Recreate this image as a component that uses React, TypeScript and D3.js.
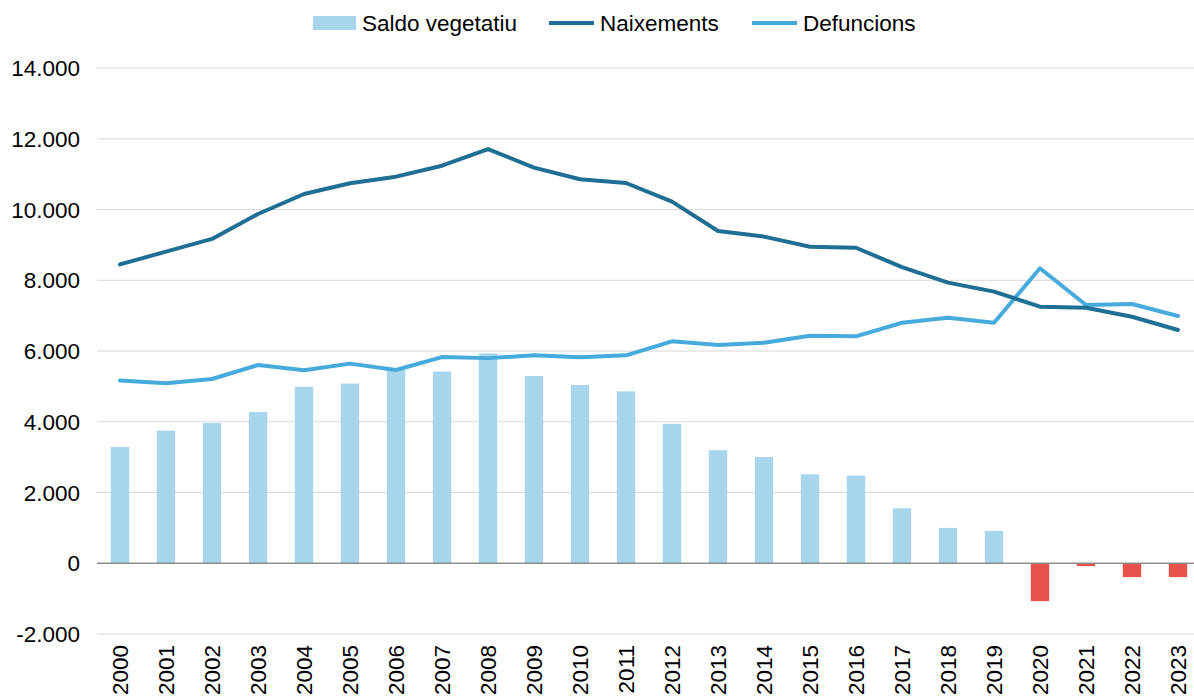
import React, { useRef, useEffect } from 'react';
import * as d3 from 'd3';

const years = ['2000', '2001', '2002', '2003', '2004', '2005', '2006', '2007', '2008', '2009', '2010', '2011',
  '2012', '2013', '2014', '2015', '2016', '2017', '2018', '2019', '2020', '2021', '2022', '2023'];

const saldo = [3290, 3750, 3965, 4275, 4985, 5080, 5465, 5420, 5935, 5295, 5040, 4860,
  3940, 3195, 3005, 2515, 2480, 1555, 1000, 915, -1070, -80, -390, -390];

const naixements = [8450, 8810, 9170, 9875, 10440, 10745, 10930, 11240, 11710, 11185, 10855, 10750,
  10225, 9395, 9235, 8950, 8920, 8370, 7935, 7680, 7255, 7225, 6970, 6595];

const defuncions = [5170, 5090, 5210, 5605, 5455, 5645, 5465, 5830, 5800, 5880, 5825, 5880,
  6275, 6170, 6235, 6435, 6415, 6800, 6940, 6800, 8340, 7300, 7330, 6990];

const yTicks = [-2000, 0, 2000, 4000, 6000, 8000, 10000, 12000, 14000];

const legendItems = ['Saldo vegetatiu', 'Naixements', 'Defuncions'];

const Chart = () => {
  const svgRef = useRef(null);

  useEffect(() => {
    const width = 1194;
    const height = 699;
    const font = '"Liberation Sans", Arial, sans-serif';
    const fontSize = 22.5;

    const cBar = '#a7d6ec';
    const cNeg = '#e9514a';
    const cNaix = '#1f6f95';
    const cDef = '#46abdc';

    const svg = d3.select(svgRef.current);
    svg.selectAll('*').remove();
    svg.attr('width', width).attr('height', height);

    const x = d3.scaleBand().domain(years).range([97, 1201]);
    const y = d3.scaleLinear().domain([-2000, 14000]).range([634.05, 68.05]);

    const fmt = d3.formatLocale({ decimal: ',', thousands: '.', grouping: [3], currency: ['', '€'], minus: '-' }).format(',');

    // gridlines
    svg.append('g')
      .selectAll('line')
      .data(yTicks.filter(d => d !== 0))
      .enter().append('line')
      .attr('x1', 97).attr('x2', width)
      .attr('y1', d => y(d)).attr('y2', d => y(d))
      .attr('stroke', '#d9d9d9').attr('stroke-width', 1);

    // y tick labels
    svg.append('g')
      .selectAll('text')
      .data(yTicks)
      .enter().append('text')
      .attr('x', 80)
      .attr('y', d => y(d))
      .attr('dy', '0.36em')
      .attr('text-anchor', 'end')
      .attr('font-family', font)
      .attr('font-size', fontSize)
      .attr('fill', '#000')
      .text(d => fmt(d));

    // bars
    const barW = x.step() * 0.4;
    svg.append('g')
      .selectAll('rect')
      .data(saldo)
      .enter().append('rect')
      .attr('x', (d, i) => x(years[i]) + x.step() / 2 - barW / 2)
      .attr('y', d => y(Math.max(0, d)))
      .attr('width', barW)
      .attr('height', d => Math.abs(y(d) - y(0)))
      .attr('fill', d => d < 0 ? cNeg : cBar);

    // zero line
    svg.append('line')
      .attr('x1', 97).attr('x2', width)
      .attr('y1', y(0)).attr('y2', y(0))
      .attr('stroke', '#8c8c8c').attr('stroke-width', 1.5);

    const cx = i => x(years[i]) + x.step() / 2;
    const line = d3.line().x((d, i) => cx(i)).y(d => y(d));

    svg.append('path')
      .datum(defuncions)
      .attr('d', line)
      .attr('fill', 'none')
      .attr('stroke', cDef)
      .attr('stroke-width', 4)
      .attr('stroke-linejoin', 'round')
      .attr('stroke-linecap', 'round');

    svg.append('path')
      .datum(naixements)
      .attr('d', line)
      .attr('fill', 'none')
      .attr('stroke', cNaix)
      .attr('stroke-width', 4)
      .attr('stroke-linejoin', 'round')
      .attr('stroke-linecap', 'round');

    // x labels
    svg.append('g')
      .selectAll('text')
      .data(years)
      .enter().append('text')
      .attr('transform', d => `translate(${x(d) + x.step() / 2},645) rotate(-90)`)
      .attr('dy', '0.36em')
      .attr('text-anchor', 'end')
      .attr('font-family', font)
      .attr('font-size', fontSize)
      .attr('fill', '#000')
      .text(d => d);

    // legend
    const legend = svg.append('g');
    const lx = [313, 549, 752];
    const legendColor = [cBar, cNaix, cDef];
    legendItems.forEach((name, i) => {
      if (i === 0) {
        legend.append('rect')
          .attr('x', lx[i]).attr('y', 16).attr('width', 43).attr('height', 14)
          .attr('fill', legendColor[i]);
      } else {
        legend.append('line')
          .attr('x1', lx[i]).attr('x2', lx[i] + 45)
          .attr('y1', 23).attr('y2', 23)
          .attr('stroke', legendColor[i]).attr('stroke-width', 4);
      }
      legend.append('text')
        .attr('x', lx[i] + (i === 0 ? 49 : 51))
        .attr('y', 23)
        .attr('dy', '0.36em')
        .attr('font-family', font)
        .attr('font-size', fontSize)
        .attr('fill', '#000')
        .text(name);
    });
  }, []);

  return <svg ref={svgRef} style={{ position: 'absolute', left: 0, top: 0 }}></svg>;
};

export default function App() {
  return <Chart />;
}
